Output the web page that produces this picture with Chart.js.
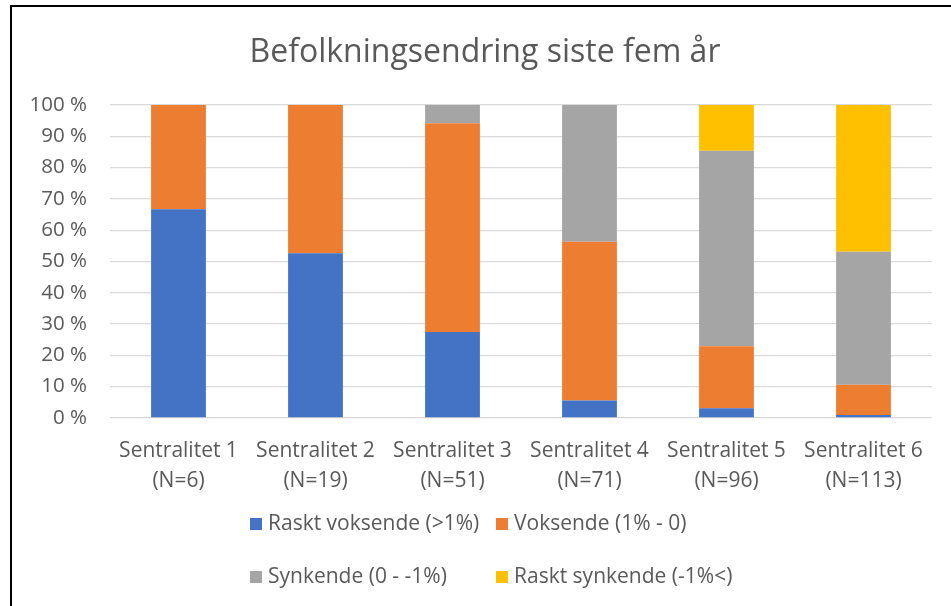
<!DOCTYPE html>
<html>
<head>
<meta charset="utf-8">
<script src="https://cdn.jsdelivr.net/npm/chart.js@4.4.1/dist/chart.umd.min.js"></script>
<style>
  html, body { margin: 0; padding: 0; background: #fff; overflow: hidden; }
  #wrap { position: relative; width: 951px; height: 606px; }
  #frame { position: absolute; left: 10px; top: 5px; width: 2000px; height: 2000px;
           border-left: 2px solid #000; border-top: 2px solid #000; pointer-events: none; }
</style>
</head>
<body>
<div id="wrap">
  <canvas id="c" width="951" height="606"></canvas>
  <div id="frame"></div>
</div>
<script>
// ---- data ----
const titleText = 'Befolkningsendring siste fem år';
const categories = [
  ['Sentralitet 1', '(N=6)'],
  ['Sentralitet 2', '(N=19)'],
  ['Sentralitet 3', '(N=51)'],
  ['Sentralitet 4', '(N=71)'],
  ['Sentralitet 5', '(N=96)'],
  ['Sentralitet 6', '(N=113)']
];
const seriesNames = ['Raskt voksende (>1%)', 'Voksende (1% - 0)', 'Synkende (0 - -1%)', 'Raskt synkende (-1%<)'];
const rasktVoksende  = [66.7, 52.6, 27.5, 5.6, 3.1, 0.9];
const voksende       = [33.3, 47.4, 66.7, 50.7, 19.8, 9.7];
const synkende       = [0, 0, 5.9, 43.7, 62.5, 42.5];
const rasktSynkende  = [0, 0, 0, 0, 14.6, 46.9];
const yTicks = [0, 10, 20, 30, 40, 50, 60, 70, 80, 90, 100];

const colors = ['#4472C4', '#ED7D31', '#A5A5A5', '#FFC000'];
const FONT = "'Open Sans', 'Noto Sans', sans-serif";
const TEXT = '#595959';

const gridLegend = {
  id: 'gridLegend',
  afterDraw(chart, args, opts) {
    const ctx = chart.ctx;
    ctx.save();
    ctx.font = opts.fontSize + 'px ' + FONT;
    ctx.textBaseline = 'middle';
    ctx.textAlign = 'left';
    chart.data.datasets.forEach((ds, i) => {
      const col = i % opts.colX.length;
      const row = Math.floor(i / opts.colX.length);
      const x = opts.colX[col];
      const y = opts.rowY[row];
      ctx.fillStyle = ds.backgroundColor;
      ctx.fillRect(x, y - opts.box / 2, opts.box, opts.box);
      ctx.fillStyle = TEXT;
      ctx.fillText(ds.label, x + opts.box + opts.gap, y);
    });
    ctx.restore();
  }
};

const chartTitle = {
  id: 'chartTitle',
  afterDraw(chart, args, opts) {
    const ctx = chart.ctx;
    ctx.save();
    ctx.font = opts.fontSize + 'px ' + FONT;
    ctx.textBaseline = 'middle';
    ctx.textAlign = 'center';
    ctx.fillStyle = TEXT;
    ctx.fillText(opts.text, opts.x, opts.y);
    ctx.restore();
  }
};

const bg = {
  id: 'bg',
  beforeDraw(chart) {
    const ctx = chart.ctx;
    ctx.save();
    ctx.fillStyle = '#fff';
    ctx.fillRect(0, 0, chart.width, chart.height);
    ctx.restore();
  }
};

const seriesData = [rasktVoksende, voksende, synkende, rasktSynkende];

new Chart(document.getElementById('c'), {
  type: 'bar',
  data: {
    labels: categories,
    datasets: seriesNames.map((name, i) => ({
      label: name,
      data: seriesData[i],
      backgroundColor: colors[i],
      borderWidth: 0,
      barPercentage: 0.4,
      categoryPercentage: 1.0
    }))
  },
  options: {
    responsive: false,
    animation: false,
    layout: { padding: { left: 0, right: 19, top: 105, bottom: 100 } },
    plugins: {
      legend: { display: false },
      tooltip: { enabled: false },
      title: { display: false },
      chartTitle: { text: titleText, x: 485, y: 53, fontSize: 32 },
      gridLegend: { colX: [250, 496], rowY: [524, 577], box: 12, gap: 6, fontSize: 21 }
    },
    scales: {
      x: {
        stacked: true,
        grid: { display: false },
        border: { display: false },
        ticks: {
          color: TEXT,
          font: { family: FONT, size: 21, lineHeight: 1.43 },
          padding: 10,
          maxRotation: 0,
          autoSkip: false
        }
      },
      y: {
        stacked: true,
        min: 0,
        max: 100,
        afterFit(scale) { scale.width = 110; },
        afterBuildTicks(scale) { scale.ticks = yTicks.map(v => ({ value: v })); },
        grid: { color: '#D9D9D9', lineWidth: 1.3, drawTicks: false },
        border: { display: false },
        ticks: {
          color: TEXT,
          font: { family: FONT, size: 20.5 },
          padding: 23,
          callback: v => v + ' %'
        }
      }
    }
  },
  plugins: [bg, chartTitle, gridLegend]
});
</script>
</body>
</html>
